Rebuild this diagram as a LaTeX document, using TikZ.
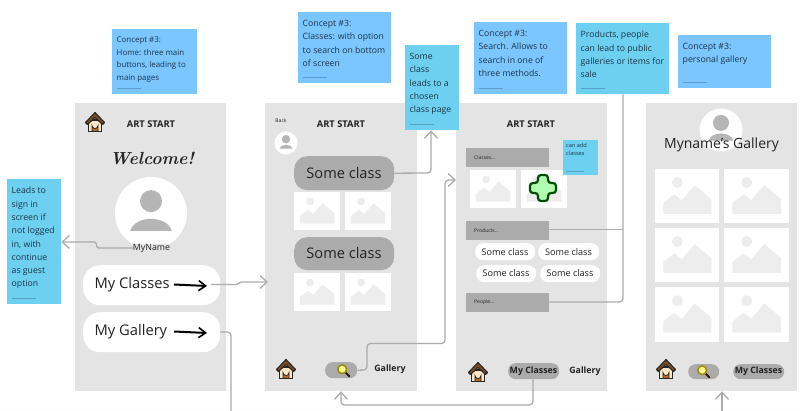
\documentclass[tikz,border=0pt]{standalone}
\usepackage{fontspec}
\setmainfont{Open Sans}
\newfontfamily\welfont{Latin Modern Roman}
\usetikzlibrary{arrows.meta}
\definecolor{phonegrey}{HTML}{E4E4E4}
\definecolor{pillgrey}{HTML}{ABABAB}
\definecolor{linegrey}{HTML}{ABABAB}
\definecolor{noteblue}{HTML}{7BC6FF}
\definecolor{notecyan}{HTML}{6DD0F0}
\definecolor{notetext}{HTML}{1D3548}
\definecolor{mount}{HTML}{EDEDED}
\definecolor{avatargrey}{HTML}{B5B5B5}
\definecolor{inktext}{HTML}{222222}
\definecolor{roof}{HTML}{7A4A22}
\definecolor{wall}{HTML}{FBE6C8}
\definecolor{door}{HTML}{B5662A}
\tikzset{
  phonebox/.style={fill=phonegrey,draw=none,inner sep=0pt,anchor=north west},
  notebox/.style={draw=none,inner sep=0pt,anchor=north west},
  pillbox/.style={fill=pillgrey,draw=none,rounded corners=#1,inner sep=0pt,anchor=north west},
  barbox/.style={fill=pillgrey,draw=none,inner sep=0pt,anchor=north west},
  whitepill/.style={fill=white,draw=none,rounded corners=#1,inner sep=0pt,anchor=north west},
  conn/.style={draw=linegrey,line width=1.3pt,rounded corners=3.5pt},
  connarrow/.style={conn,-{Straight Barb[length=7pt,width=13pt,line width=1.3pt]}},
  inkarrow/.style={draw=black,line width=2pt,-{Straight Barb[length=7pt,width=10pt,line width=1.6pt]}},
  titletxt/.style={font=\fontsize{9.3}{11}\selectfont\bfseries,text=inktext,inner sep=0pt},
  tinybold/.style={font=\fontsize{8.8}{10}\selectfont\bfseries,text=inktext,inner sep=0pt},
  bigtxt/.style={font=\fontsize{#1}{#1}\selectfont,text=inktext,inner sep=0pt},
}
\newcommand\rectnode[6]{%
  \pgfmathsetmacro\rw{#5-#3}\pgfmathsetmacro\rh{#6-#4}%
  \node[#1,minimum width=\rw pt,minimum height=\rh pt] (#2) at (#3,#4) {};}
\newcommand\notelead{13.3}
\newcommand\notepaper[8]{%
  \rectnode{notebox,fill=#2}{#1}{#3}{#4}{#5}{#6}%
  \node[anchor=north west,inner sep=0pt,text=notetext,align=left,font=\fontsize{#8}{\notelead}\selectfont] (#1t) at (#3+4.5,#4+8) {#7};%
  \draw[notetext!30!#2,line width=.6pt] (#3+4.5,#6-6) -- ++(24,0);}
\newcommand\thumb[4]{%
  \pgfmathsetmacro\tw{#3-#1}\pgfmathsetmacro\th{#4-#2}%
  \begin{scope}[shift={(#1,#2)},x=\tw pt,y=-\th pt]
    \fill[white] (0,0) rectangle (1,1);
    \fill[mount] (.35,.25) ellipse (.085 and {.085*\tw/\th});
    \fill[mount] (.13,.83) -- (.13,.63) -- (.3,.47) -- (.42,.58) -- (.62,.3) -- (.88,.56) -- (.88,.83) -- cycle;
  \end{scope}}
\newcommand\avatar[4]{%
  \begin{scope}
    \fill[white] (#1,#2) circle (#3pt);
    \clip (#1,#2) circle (#3pt);
    \fill[avatargrey] (#1,#2-.33*#3) circle (#4pt);
    \fill[avatargrey] (#1-.58*#3,#2+.5*#3) .. controls (#1-.45*#3,#2+.05*#3) and (#1+.45*#3,#2+.05*#3) .. (#1+.58*#3,#2+.5*#3) -- cycle;
  \end{scope}}
\newcommand\house[2]{%
  \begin{scope}[shift={(#1,#2)}]
    \fill[wall,draw=black!85,line width=1.1pt] (-6.5,-2) -- (-6.5,9.5) -- (6.5,9.5) -- (6.5,-2) -- cycle;
    \fill[door,draw=black!85,line width=.7pt] (-3,9.5) -- (-3,3.5) arc[start angle=180,end angle=0,radius=3] -- (3,9.5) -- cycle;
    \fill[roof,draw=black!85,line width=1.1pt,line join=round] (-9.5,.5) -- (0,-9.5) -- (9.5,.5) -- (7.5,2.5) -- (0,-4.5) -- (-7.5,2.5) -- cycle;
  \end{scope}}
\newcommand\lens[2]{%
  \begin{scope}[shift={(#1,#2)}]
    \draw[black!80!orange,line width=2pt,line cap=round] (2.5,2.5) -- (6.5,6.5);
    \fill[yellow!45!white,draw=olive!70!brown,line width=1.6pt] (-.8,-.8) circle (4.4pt);
  \end{scope}}
\newcommand\greenplus[2]{%
  \begin{scope}[shift={(#1,#2)}]
    \fill[green!30!white,draw=green!30!black,line width=2.2pt,rounded corners=3pt]
      (-5,-13) -- (5,-13) -- (5,-5) -- (13,-5) -- (13,5) -- (5,5) -- (5,13) -- (-5,13) -- (-5,5) -- (-13,5) -- (-13,-5) -- (-5,-5) -- cycle;
  \end{scope}}
\begin{document}
\begin{tikzpicture}[x=1pt,y=-1pt]
\useasboundingbox (0,0) rectangle (800,411);
\fill[white] (0,0) rectangle (800,411);
\foreach \i in {0,...,99}{\foreach \j in {0,...,51}{\fill[black!7] (4+8*\i,3+8*\j) circle (.45pt);}}

\rectnode{phonebox}{ph1}{75}{103}{226}{391}
\rectnode{phonebox}{ph2}{265}{103}{417}{391}
\rectnode{phonebox}{ph3}{456}{103}{607}{391}
\rectnode{phonebox}{ph4}{646}{103}{797}{391}

% phone 1
\house{95}{122}
\node[titletxt] (t1) at (151,124) {ART START};
\node[font=\welfont\fontsize{17.5}{18}\selectfont\itshape\bfseries,text=black!85,inner sep=0pt] (wel) at (152,158) {Welcome!};
\avatar{151}{213}{36}{11}
\node[font=\fontsize{8.8}{10}\selectfont,text=inktext,inner sep=0pt,fill=phonegrey] (myname) at (151.5,248) {MyName};
\rectnode{whitepill=17pt,fill=white}{bc}{83}{265}{220}{305}
\rectnode{whitepill=17pt,fill=white}{bg}{83}{312}{220}{352}
\node[bigtxt=14.7,anchor=west] (bct) at (94.5,284.5) {My Classes};
\node[bigtxt=14.7,anchor=west] (bgt) at (94.5,331.5) {My Gallery};
\coordinate (a1s) at (174,284.5); \coordinate (a1e) at (207,286);
\coordinate (a2s) at (174,331.5); \coordinate (a2e) at (207,333);
\draw[inkarrow] (a1s) -- (a1e);
\draw[inkarrow] (a2s) -- (a2e);

% phone 2
\node[font=\fontsize{5}{6}\selectfont,text=inktext,inner sep=0pt] (back) at (281,121) {Back};
\node[titletxt] (t2) at (341,124) {ART START};
\avatar{286}{143}{11.5}{4.2}
\rectnode{pillbox=13pt}{sc1}{294}{156}{394}{190}
\rectnode{pillbox=13pt}{sc2}{294}{237}{394}{270}
\node[bigtxt=14.6] (sc1t) at (344,173) {Some class};
\node[bigtxt=14.6] (sc2t) at (344,253.5) {Some class};
\thumb{294}{192}{340}{230}
\thumb{345}{192}{391}{230}
\thumb{294}{273}{340}{311}
\thumb{345}{273}{391}{311}
\house{286}{369}
\rectnode{pillbox=7.5pt}{srch2}{325}{362}{357}{378}
\lens{343}{370}
\node[tinybold] (gal2) at (390,369.5) {Gallery};

% phone 3
\node[titletxt] (t3) at (531,124) {ART START};
\rectnode{barbox}{barc}{466}{148}{549}{167}
\rectnode{barbox}{barp}{466}{221}{549}{240}
\rectnode{barbox}{bare}{466}{293}{549}{312}
\node[font=\fontsize{5}{6}\selectfont,text=inktext,inner sep=0pt,anchor=west] (barct) at (474,157.5) {Classes...};
\node[font=\fontsize{5}{6}\selectfont,text=inktext,inner sep=0pt,anchor=west] (barpt) at (474,230.5) {Products...};
\node[font=\fontsize{5}{6}\selectfont,text=inktext,inner sep=0pt,anchor=west] (baret) at (474,302.5) {People...};
\thumb{470}{170}{516}{208}
\thumb{521}{170}{567}{208}
\greenplus{543}{188}
\rectnode{whitepill=8pt,fill=white}{p1}{475}{243}{535}{260}
\rectnode{whitepill=8pt,fill=white}{p2}{538}{243}{599}{260}
\rectnode{whitepill=8pt,fill=white}{p3}{476}{265}{536}{282}
\rectnode{whitepill=8pt,fill=white}{p4}{540}{265}{600}{282}
\node[bigtxt=9.1] (p1t) at (505,252) {Some class};
\node[bigtxt=9.1] (p2t) at (568.5,252) {Some class};
\node[bigtxt=9.1] (p3t) at (506,273.5) {Some class};
\node[bigtxt=9.1] (p4t) at (570,273.5) {Some class};
\house{478}{372}
\rectnode{pillbox=7.5pt}{mc3}{508}{363}{559}{379}
\node[tinybold] (mc3t) at (533.5,371) {My Classes};
\node[tinybold] (gal3) at (585,371) {Gallery};

% phone 4
\avatar{721}{130}{21.5}{8}
\node[bigtxt=14] (title4) at (721.5,145) {Myname's Gallery};
\thumb{655}{169}{719}{223}
\thumb{724}{169}{789}{223}
\thumb{655}{228}{719}{282}
\thumb{724}{228}{789}{282}
\thumb{655}{287}{719}{342}
\thumb{724}{287}{789}{342}
\house{666}{369}
\rectnode{pillbox=7.5pt}{srch4}{688}{364}{719}{379}
\lens{703}{371}
\rectnode{pillbox=7.5pt}{mc4}{733}{364}{784}{379}
\node[tinybold] (mc4t) at (758.5,371) {My Classes};

% notes
\renewcommand\notelead{12.4}
\notepaper{n1}{noteblue}{112}{29}{197}{94}{Concept \#3:\\Home: three main\\buttons, leading to\\main pages}{7.9}
\renewcommand\notelead{13.3}
\notepaper{n2}{noteblue}{298}{12}{391}{83}{Concept \#3:\\Classes: with option\\to search on bottom\\of screen}{8.7}
\notepaper{n3}{noteblue}{474}{22}{567}{94}{Concept \#3:\\Search. Allows to\\search in one of\\three methods.}{8.7}
\notepaper{n4}{notecyan}{576}{23}{669}{94}{Products, people\\can lead to public\\galleries or items for\\sale}{8.7}
\notepaper{n5}{noteblue}{678}{35}{771}{88}{Concept \#3:\\personal gallery}{8.7}
\notepaper{n6}{notecyan}{405}{45}{459}{130}{Some\\class\\leads to a\\chosen\\class page}{8.7}
\notepaper{n7}{notecyan}{7}{179}{61}{304}{Leads to\\sign in\\screen if\\not logged\\in, with\\continue\\as guest\\option}{8.7}
\rectnode{notebox,fill=notecyan}{n8}{563}{140}{598}{175}
\node[anchor=north west,inner sep=0pt,text=notetext,align=left,font=\fontsize{5.6}{8.5}\selectfont] (n8t) at (566,143) {can add\\classes};
\draw[notetext!30!notecyan,line width=.6pt] (566,171) -- ++(18,0);

% connectors
\coordinate (c1b) at (97,248); \coordinate (c1c) at (96,242);
\draw[connarrow,rounded corners=1.5pt] (myname.west) -- (c1b) -- (c1c) -- (n7.east |- c1c);
\coordinate (c2s) at (211,284.5); \coordinate (c2a) at (238,284.5); \coordinate (c2b) at (240,282); \coordinate (c2e) at (268,282);
\draw[connarrow,rounded corners=1.5pt] (c2s) -- (c2a) -- (c2b) -- (c2e);
\coordinate (c3a) at (231,332); \coordinate (c3b) at (231,411);
\draw[conn] (bg.east |- c3a) -- (c3a) -- (c3b);
\coordinate (c4s) at (722,411);
\draw[connarrow] (c4s) -- (ph4.south -| c4s);
\coordinate (c5) at (431,173);
\draw[connarrow] (sc1.east) -- (c5) -- (n6.south -| c5);
\coordinate (c6a) at (367,370); \coordinate (c6b) at (367,343.5); \coordinate (c6c) at (445,343.5); \coordinate (c6d) at (445,180);
\draw[connarrow] (srch2.east) -- (c6a) -- (c6b) -- (c6c) -- (c6d) -- (ph3.west |- c6d);
\coordinate (c7a) at (533,405); \coordinate (c7b) at (341,405);
\draw[connarrow] (mc3.south -| c7a) -- (c7a) -- (c7b) -- (ph2.south -| c7b);
\coordinate (c8) at (623,94); \coordinate (c8a) at (623,229.5); \coordinate (c8b) at (623,302);
\draw[conn] (n4.south -| c8) -- (c8b) -- (bare.east |- c8b);
\draw[conn] (barp.east |- c8a) -- (c8a);
\end{tikzpicture}
\end{document}
